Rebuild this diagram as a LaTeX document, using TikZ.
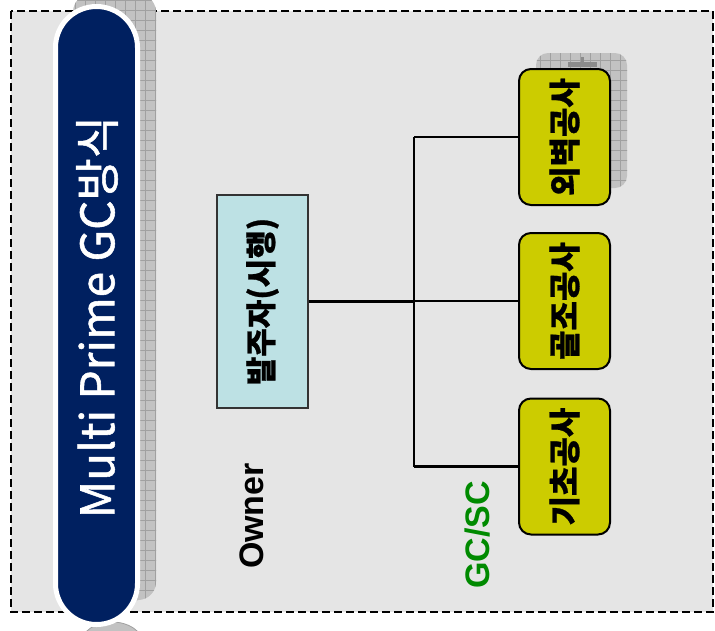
\documentclass[tikz,border=0pt]{standalone}
\usepackage{fontspec}
\usepackage{graphicx}
\setmainfont{Liberation Sans}
\newfontfamily\kr{Noto Sans CJK KR}[BoldFeatures={FakeBold=0.8}]
\newfontfamily\krtitle{Noto Sans CJK KR}[FakeBold=1.2]
\definecolor{panel}{HTML}{E5E5E5}
\definecolor{navy}{HTML}{002060}
\definecolor{owncyan}{HTML}{BDE1E4}
\definecolor{olive}{HTML}{CCCC00}
\definecolor{shadowgrey}{HTML}{C2C2C2}
\definecolor{shadowline}{HTML}{A0A0A0}
\definecolor{scgreen}{HTML}{008A00}
\tikzset{
  frameline/.style={draw=black, line width=2.4pt, dash pattern=on 8pt off 4pt, fill=panel},
  ownerbox/.style={draw=black!80, line width=1.8pt, fill=owncyan, inner sep=0pt,
    minimum width=91pt, minimum height=213pt, font=\kr\bfseries\fontsize{31}{31}\selectfont},
  tradebox/.style={draw=black, line width=2pt, fill=olive, rounded corners=12pt, inner sep=0pt,
    minimum width=91pt, minimum height=136pt, font=\kr\bfseries\fontsize{32}{32}\selectfont},
  link/.style={draw=black, line width=2.2pt},
  gridline/.style={draw=shadowline, line width=0.8pt},
  rolelabel/.style={rotate=90, font=\bfseries\fontsize{34}{34}\selectfont},
}
\begin{document}
\begin{tikzpicture}[x=1pt,y=-1pt]
\useasboundingbox (0,0) rectangle (715,630);
\fill[white] (0,0) rectangle (715,630);

% dashed panel
\draw[frameline] (11,11) rectangle (713,612);

% gridded shadow behind the title pill
\begin{scope}
  \clip[rounded corners=18pt] (73,-6) rectangle (156,600);
  \fill[shadowgrey] (70,-10) rectangle (160,605);
  \foreach \gx in {75,85,...,155} \draw[gridline] (\gx,-10) -- (\gx,605);
  \foreach \gy in {0,10,...,600} \draw[gridline] (70,\gy) -- (160,\gy);
\end{scope}
\begin{scope}
  \clip (0,614) rectangle (715,630);
  \fill[shadowgrey] (112,642) ellipse [x radius=30, y radius=20];
  \draw[shadowline, line width=0.8pt] (112,642) ellipse [x radius=30, y radius=20];
\end{scope}

% title pill
\draw[white, line width=5pt, fill=navy, rounded corners=41pt] (55.5,6.5) rectangle (137.5,624.5);
\node[rotate=90, text=white, font=\krtitle\fontsize{46}{46}\selectfont] (title) at (97,317) {Multi Prime GC방식};

% gridded shadow behind the first trade box
\begin{scope}
  \clip[rounded corners=12pt] (536,53) rectangle (627,188);
  \fill[shadowgrey] (530,50) rectangle (630,190);
  \foreach \gx in {540,550,...,630} \draw[gridline] (\gx,50) -- (\gx,190);
  \foreach \gy in {60,70,...,190} \draw[gridline] (530,\gy) -- (630,\gy);
\end{scope}
\fill[black!45] (568,62) rectangle (597,67);
\fill[black!45] (581,57) rectangle (584,62);

% owner
\node[ownerbox] (owner) at (262.5,301.5) {\rotatebox{90}{발주자(시행)}};

% trade contractors
\node[tradebox] (wall) at (564.5,137) {\rotatebox{90}{외벽공사}};
\node[tradebox] (frame) at (564.5,301) {\rotatebox{90}{골조공사}};
\node[tradebox] (found) at (564.5,466.5) {\rotatebox{90}{기초공사}};

% connectors
\coordinate (jtop) at (414,137);
\coordinate (jbot) at (414,466.5);
\draw[link] (jtop) -- (jbot);
\draw[link] (jtop) -- (wall.west);
\draw[link] (frame.west -| jtop) -- (frame.west);
\draw[link] (found.west -| jtop) -- (found.west);
\draw[link] (owner.east) -- (owner.east -| jtop);

% role labels
\node[rolelabel] (ownlbl) at (252,516) {Owner};
\node[rolelabel, text=scgreen] (gclbl) at (478,535) {GC/SC};
\end{tikzpicture}
\end{document}
